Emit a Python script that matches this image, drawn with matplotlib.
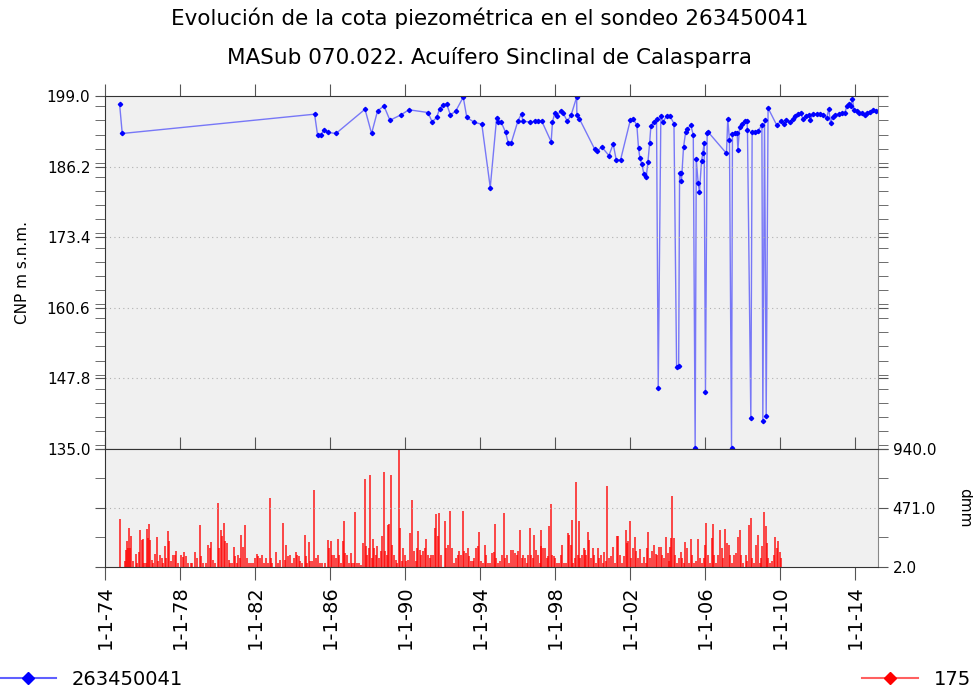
import numpy as np
import matplotlib.pyplot as plt
from matplotlib.ticker import MultipleLocator, FixedLocator
from matplotlib.lines import Line2D

# piezometric level (decimal year, m a.s.l.)
piezo_year = [1974.78, 1974.92, 1985.18, 1985.34, 1985.50, 1985.68, 1985.89, 1986.32,
              1987.87, 1988.22, 1988.54, 1988.88, 1989.20, 1989.80, 1990.21, 1991.23,
              1991.45, 1991.69, 1991.85, 1992.04, 1992.22, 1992.42, 1992.70, 1993.11,
              1993.30, 1993.71, 1994.10, 1994.55, 1994.89, 1994.99, 1995.14, 1995.37,
              1995.51, 1995.67, 1996.03, 1996.22, 1996.29, 1996.67, 1996.93, 1997.10,
              1997.29, 1997.80, 1997.87, 1998.00, 1998.12, 1998.30, 1998.43, 1998.66,
              1998.87, 1999.16, 1999.17, 1999.30, 2000.13, 2000.27, 2000.49, 2000.88,
              2001.11, 2001.27, 2001.50, 2002.02, 2002.18, 2002.37, 2002.46, 2002.53,
              2002.64, 2002.75, 2002.87, 2002.96, 2003.05, 2003.12, 2003.28, 2003.42,
              2003.51, 2003.65, 2003.77, 2003.96, 2004.13, 2004.35, 2004.49, 2004.60,
              2004.65, 2004.70, 2004.75, 2004.86, 2004.97, 2005.07, 2005.25, 2005.38,
              2005.48, 2005.54, 2005.64, 2005.71, 2005.82, 2005.89, 2005.96, 2006.03,
              2006.12, 2006.19, 2007.15, 2007.22, 2007.31, 2007.42, 2007.47, 2007.60,
              2007.72, 2007.76, 2007.85, 2007.99, 2008.12, 2008.24, 2008.27, 2008.45,
              2008.52, 2008.67, 2008.83, 2009.04, 2009.09, 2009.18, 2009.27, 2009.37,
              2009.82, 2010.08, 2010.24, 2010.35, 2010.53, 2010.71, 2010.82, 2010.98,
              2011.10, 2011.24, 2011.40, 2011.56, 2011.60, 2011.78, 2011.96, 2012.13,
              2012.31, 2012.49, 2012.61, 2012.70, 2012.81, 2012.95, 2013.13, 2013.29,
              2013.47, 2013.56, 2013.70, 2013.77, 2013.87, 2013.95, 2014.09, 2014.23,
              2014.36, 2014.53, 2014.62, 2014.80, 2014.97, 2015.15]
piezo_cota = [197.5, 192.2, 195.7, 191.9, 191.9, 192.8, 192.4, 192.2,
              196.6, 192.2, 196.3, 197.2, 194.6, 195.6, 196.5, 196.0,
              194.3, 195.1, 196.7, 197.4, 197.6, 195.6, 196.2, 198.8,
              195.1, 194.2, 193.9, 182.4, 195.0, 194.2, 194.2, 192.4,
              190.5, 190.5, 194.5, 195.8, 194.4, 194.3, 194.4, 194.4,
              194.5, 190.7, 194.3, 196.0, 195.4, 196.3, 196.0, 194.4,
              195.6, 198.8, 195.5, 194.9, 189.3, 189.0, 189.8, 188.2,
              190.3, 187.4, 187.4, 194.6, 194.8, 193.7, 189.5, 187.8,
              186.6, 184.8, 184.3, 187.0, 190.4, 193.6, 194.3, 194.8,
              146.0, 195.3, 194.3, 195.4, 195.4, 194.0, 149.9, 150.0,
              185.1, 185.0, 183.6, 189.7, 192.4, 193.1, 193.7, 191.9,
              135.1, 187.5, 183.2, 181.6, 187.2, 188.7, 190.4, 145.4,
              192.2, 192.4, 188.6, 194.8, 191.0, 135.1, 192.1, 192.2,
              192.2, 189.2, 193.3, 193.9, 194.4, 194.5, 192.8, 140.6,
              192.5, 192.4, 192.7, 193.7, 140.1, 194.6, 141.0, 196.8,
              193.8, 194.4, 194.0, 194.6, 194.2, 194.8, 195.3, 195.7,
              195.9, 194.8, 195.4, 195.6, 194.6, 195.7, 195.7, 195.7,
              195.6, 195.0, 196.6, 194.1, 195.1, 195.6, 195.7, 195.9,
              195.9, 197.1, 197.5, 197.1, 198.5, 196.5, 196.3, 196.0,
              195.9, 195.5, 195.9, 196.1, 196.5, 196.3]

# precipitation, station 175 (decimal year, dmm)
rain_year = [1974.80, 1975.07, 1975.14, 1975.19, 1975.24, 1975.30, 1975.35, 1975.40, 1975.49, 1975.64,
             1975.71, 1975.80, 1975.88, 1975.96, 1976.04, 1976.10, 1976.17, 1976.24, 1976.29, 1976.35,
             1976.40, 1976.49, 1976.58, 1976.67, 1976.77, 1976.84, 1976.95, 1977.02, 1977.09, 1977.20,
             1977.27, 1977.34, 1977.43, 1977.52, 1977.61, 1977.73, 1977.80, 1977.91, 1978.04, 1978.14,
             1978.23, 1978.32, 1978.44, 1978.57, 1978.66, 1978.80, 1978.91, 1979.05, 1979.14, 1979.24,
             1979.37, 1979.49, 1979.58, 1979.67, 1979.78, 1979.88, 1980.03, 1980.08, 1980.17, 1980.24,
             1980.33, 1980.40, 1980.51, 1980.60, 1980.68, 1980.77, 1980.86, 1980.93, 1981.02, 1981.11,
             1981.20, 1981.27, 1981.36, 1981.48, 1981.56, 1981.68, 1981.79, 1981.91, 1982.00, 1982.09,
             1982.18, 1982.27, 1982.36, 1982.46, 1982.59, 1982.68, 1982.78, 1982.85, 1982.92, 1983.10,
             1983.21, 1983.35, 1983.49, 1983.58, 1983.65, 1983.76, 1983.88, 1983.99, 1984.10, 1984.20,
             1984.26, 1984.35, 1984.42, 1984.52, 1984.65, 1984.72, 1984.79, 1984.88, 1984.95, 1985.06,
             1985.15, 1985.24, 1985.36, 1985.45, 1985.59, 1985.72, 1985.88, 1985.95, 1986.04, 1986.12,
             1986.21, 1986.30, 1986.41, 1986.48, 1986.60, 1986.69, 1986.75, 1986.82, 1986.91, 1987.01,
             1987.12, 1987.19, 1987.28, 1987.35, 1987.44, 1987.55, 1987.65, 1987.76, 1987.85, 1987.92,
             1987.99, 1988.06, 1988.13, 1988.22, 1988.29, 1988.36, 1988.44, 1988.51, 1988.61, 1988.70,
             1988.79, 1988.86, 1988.93, 1989.02, 1989.09, 1989.16, 1989.24, 1989.31, 1989.40, 1989.50,
             1989.59, 1989.66, 1989.73, 1989.82, 1989.89, 1989.98, 1990.07, 1990.16, 1990.28, 1990.39,
             1990.48, 1990.57, 1990.64, 1990.71, 1990.78, 1990.87, 1990.96, 1991.05, 1991.14, 1991.23,
             1991.32, 1991.40, 1991.49, 1991.58, 1991.67, 1991.76, 1991.83, 1991.94, 1992.13, 1992.20,
             1992.31, 1992.42, 1992.49, 1992.60, 1992.72, 1992.81, 1992.90, 1992.99, 1993.09, 1993.16,
             1993.24, 1993.34, 1993.43, 1993.52, 1993.63, 1993.70, 1993.80, 1993.88, 1993.96, 1994.05,
             1994.16, 1994.27, 1994.34, 1994.44, 1994.55, 1994.64, 1994.73, 1994.80, 1994.87, 1994.98,
             1995.08, 1995.19, 1995.28, 1995.35, 1995.44, 1995.55, 1995.65, 1995.74, 1995.87, 1995.96,
             1996.04, 1996.12, 1996.22, 1996.31, 1996.40, 1996.51, 1996.58, 1996.65, 1996.72, 1996.81,
             1996.90, 1996.99, 1997.08, 1997.18, 1997.24, 1997.28, 1997.38, 1997.47, 1997.56, 1997.63,
             1997.70, 1997.77, 1997.84, 1997.93, 1998.02, 1998.11, 1998.21, 1998.32, 1998.39, 1998.50,
             1998.60, 1998.69, 1998.76, 1998.84, 1998.91, 1998.99, 1999.07, 1999.14, 1999.21, 1999.28,
             1999.35, 1999.44, 1999.53, 1999.60, 1999.67, 1999.74, 1999.83, 1999.92, 2000.01, 2000.10,
             2000.20, 2000.28, 2000.36, 2000.45, 2000.56, 2000.63, 2000.72, 2000.79, 2000.86, 2000.97,
             2001.09, 2001.20, 2001.31, 2001.38, 2001.48, 2001.59, 2001.68, 2001.77, 2001.86, 2001.91,
             2001.98, 2002.07, 2002.16, 2002.27, 2002.34, 2002.43, 2002.52, 2002.62, 2002.73, 2002.84,
             2002.91, 2002.98, 2003.07, 2003.16, 2003.26, 2003.37, 2003.46, 2003.55, 2003.64, 2003.72,
             2003.83, 2003.94, 2004.01, 2004.08, 2004.15, 2004.20, 2004.26, 2004.33, 2004.40, 2004.51,
             2004.61, 2004.70, 2004.79, 2004.88, 2004.95, 2005.04, 2005.13, 2005.24, 2005.32, 2005.43,
             2005.54, 2005.63, 2005.72, 2005.82, 2005.93, 2006.00, 2006.07, 2006.14, 2006.25, 2006.36,
             2006.43, 2006.50, 2006.60, 2006.71, 2006.82, 2006.89, 2006.99, 2007.08, 2007.17, 2007.28,
             2007.35, 2007.46, 2007.56, 2007.67, 2007.78, 2007.85, 2007.92, 2008.03, 2008.17, 2008.24,
             2008.35, 2008.45, 2008.52, 2008.63, 2008.74, 2008.81, 2008.92, 2008.99, 2009.05, 2009.16,
             2009.24, 2009.31, 2009.38, 2009.48, 2009.59, 2009.66, 2009.73, 2009.82, 2009.91, 2009.98,
             2010.05]
rain_dmm = [384, 47, 140, 206, 153, 312, 153, 246, 47, 105,
            34, 119, 299, 219, 227, 34, 34, 307, 232, 344,
            219, 60, 34, 105, 240, 47, 100, 74, 34, 166,
            74, 286, 206, 47, 100, 95, 127, 34, 95, 79,
            121, 87, 34, 34, 34, 121, 74, 339, 87, 34,
            34, 180, 153, 201, 60, 34, 511, 153, 299, 246,
            352, 206, 193, 60, 34, 34, 158, 87, 34, 100,
            74, 259, 158, 333, 74, 34, 34, 34, 74, 105,
            87, 74, 100, 34, 74, 34, 551, 74, 34, 119,
            34, 60, 352, 60, 180, 87, 100, 34, 74, 119,
            100, 87, 47, 34, 259, 87, 34, 198, 47, 47,
            611, 74, 100, 34, 34, 34, 214, 153, 206, 100,
            100, 74, 225, 100, 34, 206, 365, 113, 100, 34,
            113, 34, 34, 439, 34, 34, 20, 193, 701, 166,
            100, 153, 731, 74, 227, 153, 100, 166, 74, 127,
            246, 757, 127, 100, 339, 344, 731, 180, 100, 60,
            34, 935, 312, 47, 153, 100, 47, 60, 272, 537,
            127, 47, 153, 286, 140, 100, 127, 153, 225, 100,
            74, 100, 100, 312, 423, 246, 431, 100, 365, 153,
            180, 445, 153, 34, 74, 100, 127, 100, 445, 127,
            113, 153, 87, 47, 47, 74, 153, 166, 280, 47,
            34, 180, 100, 34, 34, 113, 119, 344, 74, 34,
            47, 95, 429, 74, 100, 34, 140, 140, 113, 100,
            127, 299, 74, 100, 74, 34, 100, 312, 100, 74,
            254, 140, 100, 34, 166, 299, 153, 153, 74, 87,
            325, 503, 100, 87, 74, 34, 34, 100, 180, 34,
            34, 272, 254, 180, 378, 34, 74, 678, 100, 365,
            74, 100, 153, 140, 100, 280, 219, 74, 153, 100,
            34, 153, 74, 100, 34, 121, 47, 643, 74, 87,
            158, 34, 251, 251, 100, 34, 87, 299, 193, 206,
            365, 74, 153, 238, 127, 74, 145, 34, 79, 34,
            153, 280, 74, 127, 180, 105, 100, 158, 161, 100,
            74, 238, 113, 47, 158, 232, 569, 232, 100, 34,
            74, 119, 74, 34, 198, 153, 34, 227, 100, 34,
            47, 227, 74, 34, 74, 180, 352, 100, 34, 232,
            347, 100, 34, 100, 299, 153, 74, 304, 193, 180,
            100, 34, 100, 113, 238, 299, 100, 34, 100, 47,
            333, 392, 74, 34, 180, 254, 34, 74, 172, 439,
            325, 193, 74, 34, 47, 100, 238, 153, 206, 119,
            74]

year_ticks = [1974, 1978, 1982, 1986, 1990, 1994, 1998, 2002, 2006, 2010, 2014]
year_labels = ['1-1-74', '1-1-78', '1-1-82', '1-1-86', '1-1-90', '1-1-94',
               '1-1-98', '1-1-02', '1-1-06', '1-1-10', '1-1-14']

plt.rcParams['font.family'] = ['DejaVu Sans']
fig = plt.figure(figsize=(9.73, 6.91), dpi=100)
ax = fig.add_axes([0.1079, 0.3502, 0.7944, 0.5109])
ax2 = fig.add_axes([0.1079, 0.1795, 0.7944, 0.1708], sharex=ax)

spine_col = '#333333'
for a in (ax, ax2):
    a.set_facecolor('#f0f0f0')
    for s in a.spines.values():
        s.set_color(spine_col)
    a.spines['right'].set_color('#888888')

# top panel
ax.plot(piezo_year, piezo_cota, color='blue', alpha=0.5, lw=1.0)
ax.plot(piezo_year, piezo_cota, ls='none', marker='D', ms=2.2, color='blue')
ax.set_xlim(1974.0, 2015.23)
ax.set_ylim(135.0, 199.0)
yt = [135.0, 147.8, 160.6, 173.4, 186.2, 199.0]
ax.yaxis.set_major_locator(FixedLocator(yt))
ax.yaxis.set_minor_locator(MultipleLocator(2.56))
ax.set_yticklabels(['%.1f' % v for v in yt], fontsize=11)
ax.tick_params(axis='y', which='both', direction='out', length=7, color='#555555',
               left=True, right=True, labelleft=True, labelright=False)
ax.tick_params(axis='x', which='both', direction='in', length=9, color='#555555',
               top=False, bottom=True, labelbottom=False)
for v in yt[1:-1]:
    ax.axhline(v, color='#b0b0b0', lw=0.8, ls=(0, (1, 3)))
axt = ax.secondary_xaxis('top')
axt.set_xticks(year_ticks)
axt.tick_params(direction='out', length=9, color='#555555', labeltop=False)
axt.spines['top'].set_visible(False)
ax.set_ylabel('CNP m s.n.m.', fontsize=11, labelpad=12)

# bottom panel
ax2.vlines(rain_year, 2.0, rain_dmm, color='red', lw=1.1, alpha=0.9)
ax2.set_ylim(2.0, 940.0)
rt = [2.0, 471.0, 940.0]
ax2.yaxis.set_major_locator(FixedLocator(rt))
ax2.yaxis.set_minor_locator(FixedLocator([236.5, 705.5]))
ax2.set_yticklabels(['%.1f' % v for v in rt], fontsize=11)
ax2.tick_params(axis='y', which='both', direction='out', length=7, color='#555555',
                left=True, right=True, labelleft=False, labelright=True)
ax2.axhline(471.0, color='#b0b0b0', lw=0.8, ls=(0, (1, 3)))
ax2.set_xticks(year_ticks)
ax2.set_xticklabels(year_labels, rotation=90, fontsize=14)
ax2.tick_params(axis='x', direction='out', length=9, color='#555555', pad=4)
ax2.yaxis.set_label_position('right')
ax2.set_ylabel('dmm', fontsize=11, rotation=-90, labelpad=26)

fig.text(0.503, 0.974, 'Evolución de la cota piezométrica en el sondeo 263450041',
         ha='center', va='center', fontsize=15.5)
fig.text(0.503, 0.9175, 'MASub 070.022. Acuífero Sinclinal de Calasparra',
         ha='center', va='center', fontsize=15.5)

h1 = Line2D([], [], color='#6060ff', lw=1.5, marker='D', ms=6, mfc='blue', mec='blue')
h2 = Line2D([], [], color='#ff6060', lw=1.5, marker='D', ms=6, mfc='red', mec='red')
fig.legend([h1], ['263450041'], loc='center left', bbox_to_anchor=(0.0, 0.017),
           frameon=False, fontsize=14, handlelength=2.9, handletextpad=0.8,
           borderpad=0, borderaxespad=0)
fig.legend([h2], ['175'], loc='center right', bbox_to_anchor=(0.998, 0.017),
           frameon=False, fontsize=14, handlelength=2.9, handletextpad=0.8,
           borderpad=0, borderaxespad=0)

fig.savefig('out.png', dpi=100)
